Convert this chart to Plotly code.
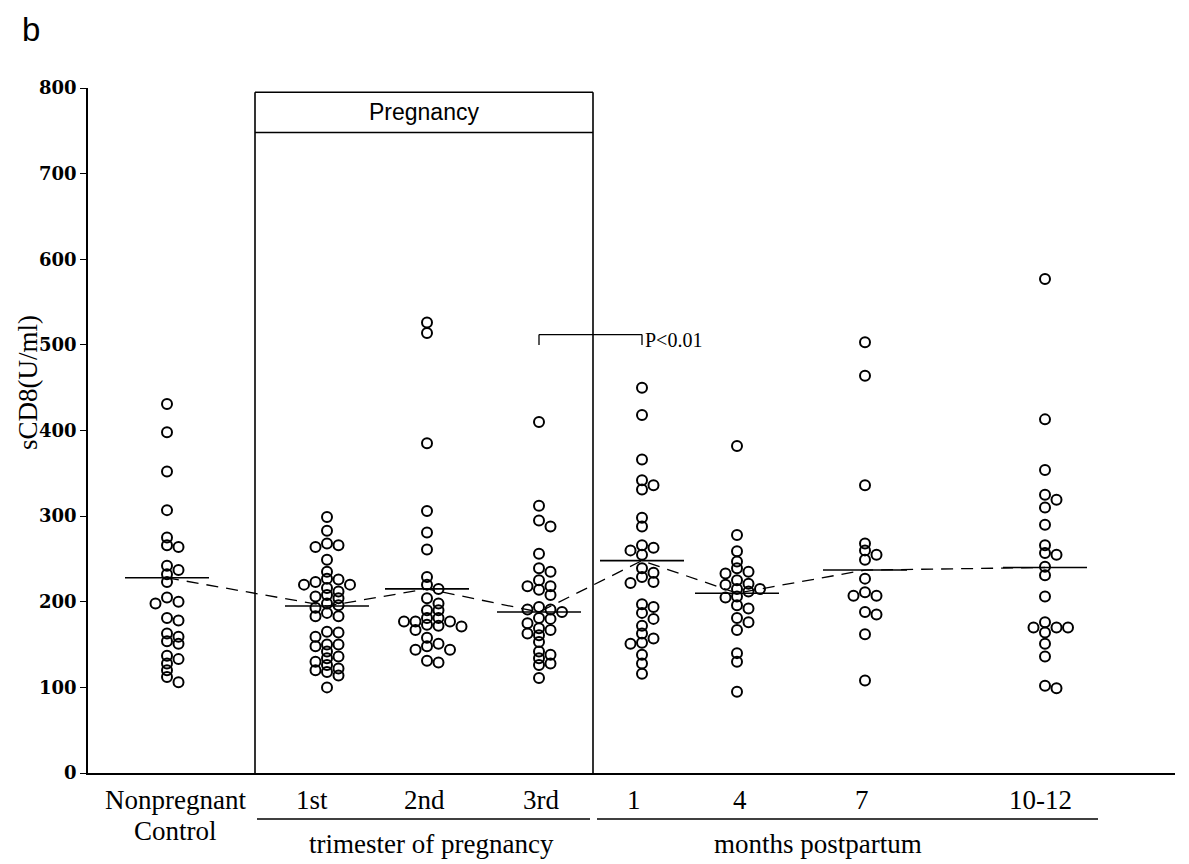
import plotly.graph_objects as go
import numpy as np

# ---------------- data ----------------
groups = ["Nonpregnant Control", "1st", "2nd", "3rd", "1", "4", "7", "10-12"]

np_control = [431, 398, 352, 307, 275, 266, 264, 242, 237, 232, 223, 205, 200, 198,
              181, 178, 163, 159, 154, 151, 137, 133, 128, 120, 112, 106]
first_tri = [299, 283, 268, 266, 264, 249, 235, 227, 226, 223, 220, 220, 216, 212, 208,
             206, 204, 198, 196, 193, 187, 183, 183, 165, 164, 159, 150, 150, 148, 142,
             136, 134, 130, 126, 122, 120, 118, 114, 100]
second_tri = [526, 514, 385, 306, 281, 261, 229, 220, 215, 204, 198, 190, 190, 181, 181,
              177, 177, 177, 173, 172, 171, 167, 158, 151, 148, 144, 144, 131, 129]
third_tri = [410, 312, 295, 288, 256, 239, 235, 225, 218, 218, 214, 208, 194, 191, 191,
             188, 181, 180, 175, 169, 167, 163, 161, 153, 142, 138, 134, 128, 126, 111]
pp_1 = [450, 418, 366, 342, 336, 331, 298, 288, 266, 263, 260, 255, 239, 234, 229, 223,
        222, 197, 194, 187, 180, 172, 163, 157, 152, 151, 138, 128, 116]
pp_4 = [382, 278, 259, 247, 239, 235, 233, 225, 221, 220, 215, 215, 212, 206, 205, 196,
        192, 181, 176, 167, 140, 130, 95]
pp_7 = [503, 464, 336, 268, 260, 255, 249, 227, 211, 207, 207, 188, 185, 162, 108]
pp_10_12 = [577, 413, 354, 325, 319, 310, 290, 266, 257, 255, 241, 231, 206, 176, 170,
            170, 170, 164, 151, 136, 102, 99]

medians = [228, 195, 215, 188, 248, 210, 237, 240]
series = [np_control, first_tri, second_tri, third_tri, pp_1, pp_4, pp_7, pp_10_12]

y_ticks = [0, 100, 200, 300, 400, 500, 600, 700, 800]

# ---------------- layout constants (x in pixel-like units) ----------------
group_x = [79, 239, 339, 451, 554, 649, 777, 957]     # cluster centres
label_x = [87, 224, 336, 453, 546, 652, 774, 952]     # category labels
med_half = 42
X_MAX = 1087
PLOT_W = 1189 - 88 - 14
PLOT_H = 864 - 88 - 91
PX_PER_UNIT_Y = PLOT_H / 800.0

SERIF = "Liberation Serif"


def beeswarm(vals, cx, step=11.5, min_d=6.0):
    order = np.argsort(-np.asarray(vals), kind="stable")
    placed = []
    xs = [0.0] * len(vals)
    cands = [0]
    for j in range(1, 8):
        cands += [j, -j]
    for i in order:
        yp = vals[i] * PX_PER_UNIT_Y
        for c in cands:
            xo = cx + c * step
            if all((xo - px) ** 2 + (yp - py) ** 2 >= min_d ** 2 for px, py in placed):
                break
        placed.append((xo, yp))
        xs[i] = xo
    return xs


def paper_y(px):
    return (773 - px) / PLOT_H


def paper_x(px):
    return (px - 88) / PLOT_W


fig = go.Figure()

# dashed line through medians
fig.add_trace(go.Scatter(
    x=group_x, y=medians, mode="lines",
    line=dict(color="black", width=1.3, dash="12px,8px"),
    hoverinfo="skip", showlegend=False))

# points
for vals, cx in zip(series, group_x):
    xs = beeswarm(vals, cx)
    fig.add_trace(go.Scatter(
        x=xs, y=vals, mode="markers",
        marker=dict(symbol="circle-open", size=10, color="black", line=dict(width=2)),
        showlegend=False))

shapes = []
# median bars
for cx, m in zip(group_x, medians):
    shapes.append(dict(type="line", x0=cx - med_half, x1=cx + med_half, y0=m, y1=m,
                       xref="x", yref="y", line=dict(color="black", width=1.6)))

# pregnancy box
bx0, bx1, btop, bhead = 167, 505, 795, 748
for (x0, y0, x1, y1) in [(bx0, 0, bx0, btop), (bx1, 0, bx1, btop),
                         (bx0, btop, bx1, btop), (bx0, bhead, bx1, bhead)]:
    shapes.append(dict(type="line", x0=x0, x1=x1, y0=y0, y1=y1, xref="x", yref="y",
                       line=dict(color="black", width=1.6)))

# significance bracket between 3rd trimester and 1 month
bl, br = group_x[3], group_x[4]
for (x0, y0, x1, y1) in [(bl, 512, br, 512), (bl, 512, bl, 500), (br, 512, br, 500)]:
    shapes.append(dict(type="line", x0=x0, x1=x1, y0=y0, y1=y1, xref="x", yref="y",
                       line=dict(color="black", width=1.3)))

# underlines for group headings
ul_y = paper_y(819)
for x0, x1 in [(169, 502), (509, 1010)]:
    shapes.append(dict(type="line", x0=x0, x1=x1, y0=ul_y, y1=ul_y, xref="x", yref="paper",
                       line=dict(color="black", width=1.3)))

annotations = []
CAT_SIZE = 27
cat_text = ["Nonpregnant", "1st", "2nd", "3rd", "1", "4", "7", "10-12"]
for t, lx in zip(cat_text, label_x):
    annotations.append(dict(text=t, x=lx, y=paper_y(800), xref="x", yref="paper",
                            showarrow=False, font=dict(family=SERIF, size=CAT_SIZE, color="black"),
                            xanchor="center", yanchor="middle"))
annotations.append(dict(text="Control", x=label_x[0], y=paper_y(831), xref="x", yref="paper",
                        showarrow=False, font=dict(family=SERIF, size=CAT_SIZE, color="black"),
                        xanchor="center", yanchor="middle"))
annotations.append(dict(text="trimester of pregnancy", x=343, y=paper_y(844), xref="x",
                        yref="paper", showarrow=False,
                        font=dict(family=SERIF, size=CAT_SIZE, color="black"),
                        xanchor="center", yanchor="middle"))
annotations.append(dict(text="months postpartum", x=730, y=paper_y(844), xref="x",
                        yref="paper", showarrow=False,
                        font=dict(family=SERIF, size=CAT_SIZE, color="black"),
                        xanchor="center", yanchor="middle"))
annotations.append(dict(text="Pregnancy", x=(bx0 + bx1) / 2, y=(btop + bhead) / 2,
                        xref="x", yref="y", showarrow=False,
                        font=dict(family="Liberation Sans", size=23, color="black"),
                        xanchor="center", yanchor="middle"))
annotations.append(dict(text="P<0.01", x=br + 1, y=506, xref="x", yref="y", showarrow=False,
                        font=dict(family=SERIF, size=20, color="black"),
                        xanchor="left", yanchor="middle"))
annotations.append(dict(text="sCD8(U/ml)", x=paper_x(28), y=paper_y(383), xref="paper",
                        yref="paper", showarrow=False, textangle=-90,
                        font=dict(family=SERIF, size=27, color="black"),
                        xanchor="center", yanchor="middle"))
annotations.append(dict(text="b", x=paper_x(20), y=paper_y(30), xref="paper", yref="paper",
                        showarrow=False,
                        font=dict(family="Liberation Sans", size=33, color="black"),
                        xanchor="left", yanchor="middle"))

fig.update_layout(
    width=1189, height=864,
    margin=dict(l=88, r=14, t=88, b=91),
    paper_bgcolor="white", plot_bgcolor="white",
    shapes=shapes, annotations=annotations,
    showlegend=False,
    xaxis=dict(range=[0, X_MAX], showgrid=False, zeroline=False, showticklabels=False,
               ticks="", showline=True, linecolor="black", linewidth=1.6, fixedrange=True),
    yaxis=dict(range=[0, 800], tickvals=y_ticks, showgrid=False, zeroline=False,
               showline=True, linecolor="black", linewidth=1.6, ticks="outside",
               ticklen=6, tickwidth=1.4, tickcolor="black",
               tickfont=dict(family="DejaVu Serif", size=18, color="black", weight="bold"),
               fixedrange=True),
)

fig.write_html("out.html")
